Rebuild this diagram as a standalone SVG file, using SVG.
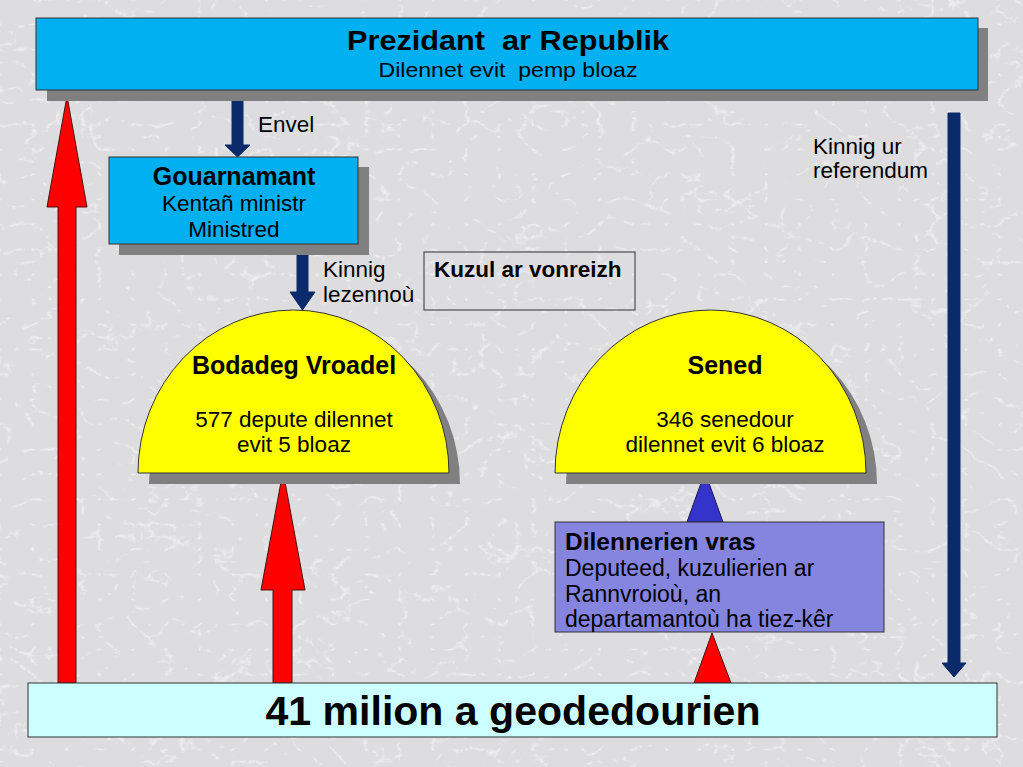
<svg xmlns="http://www.w3.org/2000/svg" width="1023" height="767" viewBox="0 0 1023 767">
<defs>
<filter id="marble" x="0" y="0" width="100%" height="100%">
<feTurbulence type="turbulence" baseFrequency="0.03 0.04" numOctaves="4" seed="5" result="n"/>
<feColorMatrix in="n" type="matrix" values="0 0 0 0 1  0 0 0 0 1  0 0 0 0 1  -7 0 0 0 1.15"/>
</filter>
<style>
.t{font-family:"Liberation Sans",Arial,sans-serif;fill:#000}
.b{font-weight:bold}
.sh{fill:#808080}
.edge{stroke:#333;stroke-width:1}
.navy{fill:#0b2a6b;stroke:#0b2a6b;stroke-width:1}
.red{fill:#ff0000;stroke:#4a1010;stroke-width:1}
</style>
</defs>
<rect x="0" y="0" width="1023" height="767" fill="#dddddf"/>
<rect x="0" y="0" width="1023" height="767" filter="url(#marble)" opacity="0.55"/>

<g id="connectors">
<polygon class="red" points="67,96 87,207 76,207 76,683 58,683 58,207 47,207"/>
<polygon class="red" points="283,471 305,590 292,590 292,683 273,683 273,590 261,590"/>
<polygon class="red" points="712,633 731,683 694,683"/>
<polygon points="705,472 723,522 687,522" fill="#3434cc" stroke="#1a1a4a" stroke-width="1"/>
<polygon class="navy" points="232,99 243,99 243,145 250,145 237.5,157 225,145 232,145"/>
<polygon class="navy" points="297,253 308,253 308,292 315,292 302.5,310 290,292 297,292"/>
<polygon class="navy" points="948,113 960,113 960,663 966,663 954,677 942,663 948,663"/>
<text class="t" x="258" y="132" font-size="22.5">Envel</text>
<text class="t" x="323" y="277" font-size="22.5">Kinnig</text>
<text class="t" x="323" y="302" font-size="22.5">lezennoù</text>
<text class="t" x="813" y="154" font-size="22.5">Kinnig ur</text>
<text class="t" x="813" y="178" font-size="22.5">referendum</text>
</g>

<g id="prezidant">
<rect class="sh" x="47" y="28" width="941" height="73"/>
<rect x="36" y="18" width="942" height="72" fill="#00b0f0" class="edge"/>
<text class="t b" x="508" y="50" font-size="28" text-anchor="middle" textLength="322" lengthAdjust="spacingAndGlyphs" xml:space="preserve">Prezidant  ar Republik</text>
<text class="t" x="508" y="77" font-size="21" text-anchor="middle" textLength="259" lengthAdjust="spacingAndGlyphs" xml:space="preserve">Dilennet evit  pemp bloaz</text>
</g>

<g id="gouarnamant">
<rect class="sh" x="119" y="167" width="250" height="88"/>
<rect x="109" y="157" width="249" height="87" fill="#00b0f0" class="edge"/>
<text class="t b" x="234" y="185" font-size="25" text-anchor="middle">Gouarnamant</text>
<text class="t" x="234" y="211" font-size="22.5" text-anchor="middle">Kentañ ministr</text>
<text class="t" x="234" y="237" font-size="22.5" text-anchor="middle">Ministred</text>
</g>

<g id="kuzul">
<rect x="424" y="252" width="211" height="58" fill="none" stroke="#333" stroke-width="1"/>
<text class="t b" x="434" y="277" font-size="22.5">Kuzul ar vonreizh</text>
</g>

<g id="bodadeg">
<path class="sh" d="M149,484 A155.5,163 0 0 1 460,484 Z"/>
<path d="M138,473 A155.5,163 0 0 1 449,473 Z" fill="#ffff00" class="edge"/>
<text class="t b" x="294" y="374" font-size="25" text-anchor="middle">Bodadeg Vroadel</text>
<text class="t" x="294" y="427" font-size="22.5" text-anchor="middle">577 depute dilennet</text>
<text class="t" x="294" y="452" font-size="22.5" text-anchor="middle">evit 5 bloaz</text>
</g>

<g id="sened">
<path class="sh" d="M566,484 A155.5,163 0 0 1 877,484 Z"/>
<path d="M555,473 A155.5,163 0 0 1 866,473 Z" fill="#ffff00" class="edge"/>
<text class="t b" x="725" y="374" font-size="25" text-anchor="middle">Sened</text>
<text class="t" x="725" y="427" font-size="22.5" text-anchor="middle">346 senedour</text>
<text class="t" x="725" y="452" font-size="22.5" text-anchor="middle">dilennet evit 6 bloaz</text>
</g>

<g id="dilennerien">
<rect x="555" y="522" width="329" height="110" fill="#8585e0" class="edge"/>
<text class="t b" x="565" y="550" font-size="24.5">Dilennerien vras</text>
<text class="t" x="565" y="576" font-size="23">Deputeed, kuzulierien ar</text>
<text class="t" x="565" y="602" font-size="23">Rannvroioù, an</text>
<text class="t" x="565" y="627" font-size="23">departamantoù ha tiez-kêr</text>
</g>

<g id="geodedourien">
<rect x="28" y="683" width="969" height="54" fill="#ccffff" class="edge"/>
<text class="t b" x="513" y="725" font-size="40" text-anchor="middle" textLength="495" lengthAdjust="spacingAndGlyphs">41 milion a geodedourien</text>
</g>
</svg>
